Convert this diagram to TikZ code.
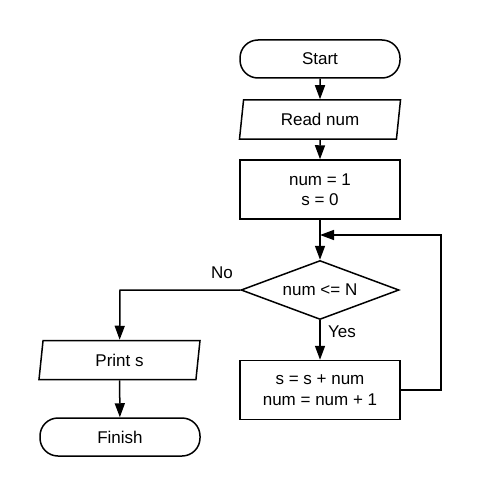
\documentclass[tikz,border=0pt]{standalone}
\usepackage{fontspec}
\setmainfont{Liberation Sans}
\usetikzlibrary{shapes.geometric,arrows.meta}
\begin{document}
\begin{tikzpicture}[x=1pt,y=-1pt,
  every node/.style={font=\fontsize{17}{20.5}\selectfont, align=center, line width=1.5pt},
  term/.style={draw, rectangle, rounded corners=18pt, minimum width=160pt, minimum height=38pt, inner sep=0pt},
  io/.style={draw, trapezium, trapezium left angle=72, trapezium right angle=108, trapezium stretches body, minimum width=161pt, minimum height=39pt, inner sep=0pt},
  proc/.style={draw, rectangle, minimum width=160pt, minimum height=59pt, inner sep=0pt},
  dec/.style={draw, diamond, shape aspect=2.68, minimum width=158pt, minimum height=59pt, inner sep=0pt},
  conn/.style={line width=1.5pt, -{Triangle[length=14pt,width=10pt]}},
  lbl/.style={font=\fontsize{17}{20.5}\selectfont, inner sep=0pt}
]
\useasboundingbox (0,0) rectangle (481,500);
\node[term] (start) at (320,59) {Start};
\node[io] (read) at (320,119.5) {Read num};
\node[proc] (init) at (320,189.5) {num = 1\\s = 0};
\coordinate (junc) at (320,235);
\node[dec] (cond) at (320,290) {num <= N};
\node[proc] (body) at (320,390) {s = s + num\\num = num + 1};
\node[io] (print) at (119.5,360) {Print s};
\node[term] (finish) at (120,437) {Finish};
\coordinate (loopa) at (441,390);
\coordinate (loopb) at (441,235);
\coordinate (nocorner) at (120,290);
\draw[conn] (start) -- (read);
\draw[conn] (read) -- (init);
\draw[conn] (init) -- (cond);
\draw[conn] (cond) -- (body);
\draw[conn] (body.east) -- (loopa) -- (loopb) -- (junc);
\draw[conn] (cond.west) -- (nocorner) -- (print);
\draw[conn] (print) -- (finish);
\node[lbl] (no) at (222,273) {No};
\node[lbl] (yes) at (342,332) {Yes};
\end{tikzpicture}
\end{document}
